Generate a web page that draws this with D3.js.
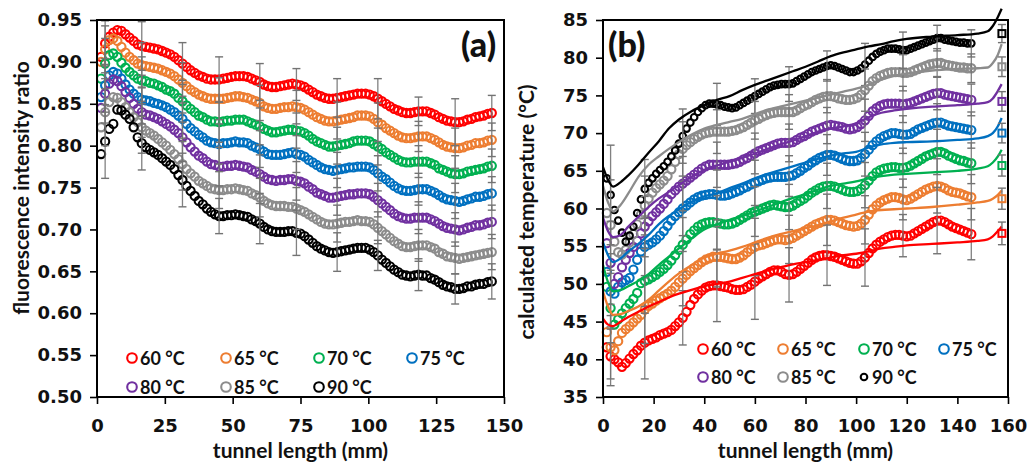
<!DOCTYPE html>
<html><head><meta charset="utf-8">
<script src="https://cdn.jsdelivr.net/npm/d3@7"></script>
<style>
body{margin:0;background:#fff}
text{font-family:Lato,"Open Sans",sans-serif;font-weight:700;fill:#111}
</style>
</head><body>
<svg id="chart" width="1027" height="468"></svg>
<script>
// ---------- data ----------
const seriesNames = ["60 °C","65 °C","70 °C","75 °C","80 °C","85 °C","90 °C"];
const seriesColors = ["#FF0000","#ED7D31","#00B050","#0070C0","#7030A0","#8C8C8C","#000000"];

const tunnelX = [1.5,3,4.5,6,7.5,9,10.5,12,13.5,15,
16.5,18,19.5,21,22.5,24,25.5,27,28.5,30,
31.5,33,34.5,36,37.5,39,40.5,42,43.5,45,
46.5,48,49.5,51,52.5,54,55.5,57,58.5,60,
61.5,63,64.5,66,67.5,69,70.5,72,73.5,75,
76.5,78,79.5,81,82.5,84,85.5,87,88.5,90,
91.5,93,94.5,96,97.5,99,100.5,102,103.5,105,
106.5,108,109.5,111,112.5,114,115.5,117,118.5,120,
121.5,123,124.5,126,127.5,129,130.5,132,133.5,135,
136.5,138,139.5,141,142.5,144,145.5];

// (a) fluorescence intensity ratio
const ratio60 = [.906,.922,.930,.935,.938,.937,.933,.929,.925,.921,
.919,.918,.917,.916,.915,.913,.911,.909,.906,.902,
.898,.894,.890,.887,.884,.882,.880,.879,.879,.879,
.880,.881,.882,.883,.883,.883,.882,.880,.878,.876,
.873,.871,.870,.870,.871,.872,.873,.874,.873,.872,
.870,.867,.864,.861,.859,.857,.856,.856,.857,.858,
.859,.860,.861,.862,.862,.862,.861,.859,.856,.853,
.850,.847,.844,.842,.840,.839,.839,.840,.841,.841,
.841,.839,.837,.834,.832,.830,.829,.828,.828,.829,
.831,.832,.834,.835,.836,.838,.839];
const ratio65 = [.900,.915,.926,.928,.925,.918,.911,.906,.902,.898,
.896,.895,.894,.893,.892,.890,.888,.886,.883,.879,
.875,.871,.867,.864,.861,.859,.857,.856,.856,.856,
.856,.857,.858,.859,.859,.858,.857,.855,.853,.851,
.847,.845,.844,.844,.845,.846,.846,.847,.846,.845,
.843,.840,.837,.834,.832,.830,.829,.829,.830,.831,
.832,.833,.834,.836,.836,.836,.835,.832,.828,.825,
.821,.818,.815,.812,.810,.809,.809,.810,.811,.811,
.811,.809,.807,.804,.801,.799,.798,.797,.797,.798,
.800,.801,.803,.803,.804,.806,.807];
const ratio70 = [.880,.898,.908,.910,.906,.899,.893,.888,.884,.880,
.878,.877,.875,.874,.872,.870,.867,.865,.862,.857,
.853,.848,.844,.840,.836,.834,.831,.829,.829,.828,
.829,.830,.830,.831,.831,.831,.829,.827,.825,.823,
.820,.818,.816,.816,.817,.818,.819,.819,.818,.817,
.815,.812,.808,.805,.803,.801,.799,.799,.800,.801,
.802,.803,.805,.806,.806,.806,.805,.802,.799,.796,
.792,.789,.786,.783,.781,.780,.780,.781,.781,.781,
.781,.779,.777,.773,.771,.769,.767,.766,.766,.767,
.769,.770,.771,.772,.773,.775,.776];
const ratio75 = [.858,.872,.884,.888,.886,.880,.873,.867,.862,.858,
.855,.854,.853,.851,.850,.848,.846,.843,.840,.836,
.832,.826,.821,.817,.813,.810,.806,.804,.803,.802,
.803,.803,.804,.805,.804,.804,.803,.800,.798,.796,
.793,.790,.789,.789,.789,.790,.791,.792,.790,.789,
.787,.783,.780,.777,.774,.772,.771,.770,.771,.772,
.773,.774,.774,.775,.775,.775,.774,.771,.767,.763,
.760,.756,.752,.749,.747,.746,.746,.747,.748,.748,
.748,.746,.744,.741,.738,.736,.735,.734,.733,.734,
.736,.737,.739,.739,.740,.742,.743];
const ratio80 = [.845,.862,.874,.879,.877,.871,.864,.857,.850,.844,
.840,.837,.836,.834,.832,.829,.826,.823,.819,.815,
.810,.804,.798,.793,.788,.785,.781,.778,.777,.775,
.775,.776,.776,.777,.776,.775,.774,.771,.769,.766,
.763,.760,.759,.758,.759,.759,.760,.760,.758,.757,
.755,.751,.748,.744,.742,.740,.738,.738,.739,.740,
.741,.742,.742,.743,.743,.743,.742,.739,.735,.731,
.727,.723,.719,.716,.714,.713,.713,.714,.714,.714,
.714,.712,.710,.707,.704,.702,.701,.700,.699,.700,
.702,.703,.705,.705,.706,.708,.709];
const ratio85 = [.822,.840,.852,.858,.857,.852,.846,.840,.834,.828,
.822,.818,.815,.812,.808,.804,.800,.795,.790,.784,
.778,.772,.767,.763,.758,.755,.752,.749,.748,.747,
.747,.748,.748,.749,.748,.747,.746,.743,.741,.738,
.734,.731,.729,.728,.728,.728,.727,.727,.725,.723,
.721,.718,.715,.712,.709,.707,.706,.706,.707,.708,
.709,.709,.710,.711,.710,.710,.709,.706,.702,.698,
.694,.690,.686,.683,.680,.679,.679,.680,.681,.681,
.681,.679,.677,.673,.671,.668,.667,.666,.665,.666,
.667,.668,.669,.670,.671,.672,.673];
const ratio90 = [.790,.805,.820,.826,.843,.842,.837,.832,.822,.810,
.803,.798,.795,.792,.789,.785,.781,.777,.772,.765,
.759,.752,.746,.740,.734,.730,.725,.721,.718,.716,
.716,.717,.717,.718,.717,.716,.715,.712,.710,.707,
.703,.700,.698,.697,.697,.697,.698,.698,.696,.695,
.692,.688,.684,.680,.677,.675,.673,.672,.673,.674,
.675,.676,.677,.678,.678,.678,.676,.673,.669,.664,
.660,.656,.652,.649,.646,.645,.644,.645,.646,.645,
.645,.642,.640,.637,.634,.632,.631,.629,.629,.630,
.632,.632,.634,.635,.635,.637,.638];

// (b) calculated temperature (°C)
const temp60 = [41.6,40.4,40.0,39.6,39.0,39.5,40.1,40.7,41.2,41.8,
42.2,42.5,42.7,42.9,43.2,43.4,43.6,43.9,44.4,44.9,
45.5,46.3,47.2,48.0,48.6,49.1,49.5,49.7,49.8,49.8,
49.7,49.6,49.5,49.3,49.2,49.2,49.3,49.6,49.9,50.3,
50.7,51.0,51.3,51.6,51.8,51.8,51.6,51.3,51.2,51.3,
51.6,52.0,52.4,52.8,53.2,53.5,53.7,53.8,53.8,53.7,
53.6,53.4,53.2,53.0,52.8,52.7,52.7,53.0,53.5,54.1,
54.7,55.2,55.6,55.9,56.2,56.4,56.5,56.5,56.4,56.3,
56.4,56.7,57.0,57.3,57.6,57.9,58.2,58.4,58.4,58.2,
57.9,57.6,57.4,57.2,57.0,56.8,56.6];
const temp65 = [43.6,41.6,41.2,42.4,43.5,44.0,44.4,44.9,45.4,45.9,
46.6,47.1,47.4,47.8,48.1,48.4,48.7,49.1,49.6,50.2,
50.7,51.2,51.7,52.1,52.5,52.9,53.2,53.4,53.6,53.6,
53.6,53.5,53.4,53.3,53.3,53.5,53.8,54.2,54.6,54.9,
55.1,55.2,55.4,55.6,55.8,55.9,55.9,55.8,55.9,56.1,
56.4,56.7,57.0,57.3,57.6,57.9,58.1,58.3,58.5,58.5,
58.4,58.2,58.0,57.8,57.7,57.6,57.7,58.0,58.5,59.2,
59.9,60.4,60.8,61.1,61.3,61.5,61.5,61.4,61.2,61.1,
61.3,61.6,61.9,62.2,62.5,62.7,62.9,63.0,62.9,62.7,
62.4,62.2,62.1,62.0,61.8,61.6,61.5];
const temp70 = [49.6,46.8,44.6,45.3,46.1,46.8,47.4,48.0,48.8,50.1,
50.4,50.6,50.9,51.2,51.6,52.0,52.5,53.1,53.8,54.5,
55.2,55.9,56.6,57.1,57.6,57.9,58.1,58.2,58.2,58.1,
58.0,57.9,57.9,58.0,58.2,58.5,58.8,59.1,59.4,59.6,
59.8,60.0,60.2,60.4,60.5,60.4,60.3,60.2,60.2,60.4,
60.7,61.0,61.3,61.7,62.1,62.4,62.7,62.9,63.0,63.0,
62.9,62.7,62.5,62.3,62.2,62.2,62.3,62.6,63.1,63.7,
64.3,64.8,65.1,65.3,65.4,65.5,65.5,65.4,65.4,65.5,
65.7,66.0,66.3,66.6,66.9,67.1,67.3,67.5,67.5,67.3,
67.0,66.8,66.6,66.4,66.3,66.1,66.0];
const temp75 = [51.6,49.0,48.7,49.6,50.2,50.5,50.8,51.9,53.2,54.3,
54.9,55.2,55.5,55.9,56.4,57.0,57.7,58.4,59.0,59.5,
60.0,60.4,60.8,61.2,61.5,61.7,61.8,61.9,61.9,61.8,
61.7,61.7,61.8,62.0,62.2,62.4,62.7,62.9,63.2,63.4,
63.6,63.8,64.0,64.1,64.2,64.2,64.2,64.2,64.3,64.4,
64.7,65.0,65.4,65.7,66.1,66.4,66.7,66.9,67.1,67.1,
67.0,66.8,66.6,66.4,66.3,66.3,66.4,66.7,67.2,67.8,
68.4,68.9,69.3,69.6,69.8,70.0,70.0,69.9,69.8,69.8,
69.9,70.2,70.5,70.7,70.9,71.1,71.3,71.4,71.4,71.2,
71.0,70.9,70.8,70.7,70.6,70.5,70.4];
const temp80 = [55.4,52.8,50.0,50.9,52.2,53.2,54.1,54.9,55.7,56.7,
57.6,58.3,59.0,59.5,60.0,60.6,61.2,61.9,62.4,62.9,
63.3,63.7,64.1,64.5,64.9,65.3,65.6,65.8,65.8,65.8,
65.8,65.8,65.8,65.9,66.0,66.2,66.5,66.7,67.0,67.3,
67.6,67.8,68.0,68.2,68.4,68.6,68.7,68.7,68.7,68.8,
69.1,69.4,69.6,69.9,70.2,70.4,70.6,70.8,71.0,71.1,
71.0,70.9,70.8,70.6,70.5,70.6,70.8,71.2,71.7,72.3,
72.9,73.3,73.6,73.8,73.9,73.9,73.9,73.9,73.8,73.9,
74.0,74.2,74.4,74.6,74.8,75.0,75.2,75.3,75.3,75.1,
75.0,74.9,74.8,74.7,74.6,74.5,74.4];
const temp85 = [59.4,57.8,55.6,54.2,53.9,54.5,55.5,56.6,57.9,59.2,
60.4,61.3,62.1,62.7,63.2,63.7,64.3,65.2,66.2,67.2,
67.9,68.4,68.8,69.2,69.5,69.8,70.0,70.1,70.2,70.2,
70.2,70.2,70.2,70.3,70.4,70.6,70.8,71.1,71.4,71.7,
71.9,72.2,72.4,72.6,72.7,72.8,72.8,72.8,72.8,72.8,
73.0,73.3,73.6,73.8,74.1,74.4,74.6,74.8,74.9,74.9,
74.8,74.6,74.5,74.4,74.4,74.5,74.7,75.1,75.7,76.3,
76.9,77.3,77.6,77.8,78.0,78.1,78.1,78.1,78.0,78.0,
78.1,78.3,78.5,78.7,78.9,79.1,79.2,79.3,79.3,79.1,
79.0,78.9,78.8,78.7,78.7,78.6,78.6];
const temp90 = [64.0,61.8,59.8,58.4,56.8,55.6,56.4,57.6,59.4,61.2,
62.6,63.4,64.0,64.6,65.1,65.6,66.2,66.9,67.7,68.6,
69.6,70.6,71.4,72.1,72.8,73.3,73.7,73.9,73.9,73.8,
73.7,73.5,73.4,73.3,73.4,73.7,74.0,74.3,74.6,74.9,
75.2,75.5,75.8,76.1,76.3,76.4,76.5,76.5,76.5,76.6,
76.9,77.2,77.5,77.8,78.1,78.3,78.5,78.7,78.9,79.0,
78.9,78.7,78.5,78.3,78.1,78.1,78.3,78.6,79.1,79.6,
80.1,80.5,80.8,81.0,81.2,81.2,81.2,81.1,81.0,81.0,
81.2,81.4,81.6,81.8,82.0,82.2,82.4,82.6,82.6,82.4,
82.3,82.2,82.1,82.0,82.0,81.9,81.9];

// error bars (positions along tunnel and ± values)
const errX = [3,16.5,31.5,45,60,73.5,88.5,103.5,118.5,132,145.5];
const errA60 = [.027,.029,.025,.027,.022,.019,.023,.024,.017,.028,.021];
const errA65 = [.028,.027,.024,.025,.021,.020,.022,.023,.018,.024,.020];
const errA70 = [.030,.028,.025,.024,.022,.021,.022,.022,.019,.022,.020];
const errA75 = [.032,.029,.027,.024,.022,.022,.021,.021,.019,.021,.020];
const errA80 = [.035,.030,.029,.023,.023,.023,.022,.020,.019,.020,.020];
const errA85 = [.040,.031,.031,.022,.023,.025,.022,.019,.019,.019,.021];
const errA90 = [.044,.032,.032,.021,.024,.027,.023,.018,.019,.018,.021];
const errB60 = [3.9,4.8,3.6,4.8,5.0,3.6,4.0,3.8,2.8,4.4,3.4];
const errB65 = [4.2,4.5,3.6,4.0,3.8,3.2,3.4,3.2,2.7,3.6,3.0];
const errB70 = [4.6,4.3,3.6,3.6,3.3,3.0,3.0,3.0,2.6,3.0,2.7];
const errB75 = [5.0,4.1,3.6,3.3,3.0,2.7,2.7,2.9,2.5,2.5,2.4];
const errB80 = [5.5,4.0,3.6,3.0,2.7,2.5,2.4,2.8,2.4,2.2,2.1];
const errB85 = [6.0,3.9,3.6,2.9,2.5,2.3,2.2,2.8,2.4,1.9,1.9];
const errB90 = [6.6,3.9,3.6,2.8,2.3,2.3,2.0,2.8,2.4,1.7,1.8];

// simulated temperature lines (b)
const simX = [0,2,4,7,10,14,18,22,26,30,35,40,45,50,55,60,65,70,75,80,85,90,95,100,105,110,115,120,130,140,148,152,154,156,157.5];
const sim60 = [45.4,44.6,44.4,45.0,45.6,46.3,47.0,47.6,48.2,48.7,49.2,49.7,50.0,50.3,50.8,51.3,51.8,52.2,52.6,52.9,53.2,53.5,53.8,54.0,54.3,54.7,54.9,55.1,55.3,55.5,55.7,55.9,56.3,57.0,57.6];
const sim65 = [49.0,47.0,45.9,46.0,46.4,47.0,47.9,49.1,50.3,51.4,52.5,53.5,54.0,54.4,54.9,55.5,56.1,56.6,57.0,57.4,57.8,58.3,58.8,59.2,59.6,59.8,59.9,60.0,60.2,60.5,60.8,61.0,61.3,61.8,62.4];
const sim70 = [52.5,50.2,49.0,49.2,49.7,50.4,51.3,52.5,53.6,54.7,56.0,57.2,57.9,58.5,59.0,59.6,60.2,60.8,61.4,61.9,62.5,63.0,63.3,63.6,64.0,64.3,64.5,64.6,64.8,65.0,65.3,65.6,66.1,66.9,67.8];
const sim75 = [55.5,53.8,52.9,53.4,54.3,55.3,56.5,57.9,59.0,59.9,60.9,61.6,62.0,62.7,63.3,64.0,64.6,65.1,65.6,66.1,66.6,67.0,67.3,67.5,68.1,68.5,68.7,68.8,68.9,69.1,69.3,69.6,70.0,70.9,72.0];
const sim80 = [58.8,57.0,56.2,56.5,57.6,58.9,60.2,61.3,62.2,63.1,64.2,65.1,65.7,66.2,66.7,67.3,67.9,68.5,69.0,69.6,70.2,70.6,70.9,71.3,72.1,72.7,73.0,73.2,73.5,73.7,73.9,74.1,74.6,75.6,76.5];
const sim85 = [63.0,60.8,59.6,60.5,62.0,64.2,65.8,66.9,67.9,68.8,69.8,70.6,71.1,71.5,71.9,72.5,73.1,73.5,73.9,74.3,74.7,75.1,75.5,75.9,76.4,77.1,77.6,77.9,78.3,78.5,78.6,78.7,79.3,80.4,81.8];
const sim90 = [65.5,63.8,62.9,63.5,64.4,65.8,67.4,68.9,70.6,71.8,72.9,73.7,74.4,74.9,75.7,76.4,77.0,77.6,78.2,78.8,79.5,80.2,80.7,81.1,81.5,81.8,82.2,82.5,82.8,83.0,83.2,83.5,84.2,85.4,86.5];

// outlet measurements (squares)
const outletX = 157.6;
const outletT = [56.7,61.3,65.7,70.0,74.2,78.8,83.2];
const outletErr = [1.5,1.4,1.4,1.3,1.3,1.3,1.2];

const ticksA_y = [0.50,0.55,0.60,0.65,0.70,0.75,0.80,0.85,0.90,0.95];
const ticksA_x = [0,25,50,75,100,125,150];
const ticksB_y = [35,40,45,50,55,60,65,70,75,80,85];
const ticksB_x = [0,20,40,60,80,100,120,140,160];

const ratios = [ratio60,ratio65,ratio70,ratio75,ratio80,ratio85,ratio90];
const temps = [temp60,temp65,temp70,temp75,temp80,temp85,temp90];
const errsA = [errA60,errA65,errA70,errA75,errA80,errA85,errA90];
const errsB = [errB60,errB65,errB70,errB75,errB80,errB85,errB90];
const sims = [sim60,sim65,sim70,sim75,sim80,sim85,sim90];

// ---------- drawing ----------
const svg = d3.select("#chart");
const errColor = "#737373";
const tickFont = "'DejaVu Sans', sans-serif";

function panel(cfg){
  const g = svg.append("g");
  const x = cfg.x, y = cfg.y;
  const [x0,x1] = x.range(), [y0,y1] = y.range();
  const ax = g.append("g").attr("transform",`translate(0,${y0})`)
    .call(d3.axisBottom(x).tickValues(cfg.xt).tickSize(7).tickSizeOuter(0).tickPadding(15).tickFormat(d3.format("d")));
  const ay = g.append("g").attr("transform",`translate(${x0},0)`)
    .call(d3.axisLeft(y).tickValues(cfg.yt).tickSize(7).tickSizeOuter(0).tickPadding(8).tickFormat(cfg.yf));
  [ax,ay].forEach(a=>{
    a.select(".domain").remove();
    a.selectAll(".tick line").attr("stroke","#000").attr("stroke-width",1.6);
    a.selectAll(".tick text").style("font-size","18px").style("font-family",tickFont).style("font-weight","700").attr("fill","#1a1a1a");
  });
  // circles
  cfg.vals.forEach((vals,si)=>{
    g.append("g").selectAll("circle").data(vals).join("circle")
      .attr("cx",(d,i)=>x(tunnelX[i])).attr("cy",d=>y(d))
      .attr("r", cfg.rad(si)).attr("fill","none")
      .attr("stroke",seriesColors[si]).attr("stroke-width",2.1);
  });
  // error bars (drawn over the markers)
  const eb = g.append("g");
  cfg.vals.forEach((vals,si)=>{
    errX.forEach((ex,k)=>{
      const i = tunnelX.indexOf(ex);
      const v = vals[i], e = cfg.errs[si][k];
      const px = x(ex);
      eb.append("line").attr("x1",px).attr("x2",px).attr("y1",y(v-e)).attr("y2",y(v+e))
        .attr("stroke",errColor).attr("stroke-width",1.3).attr("stroke-opacity",0.9);
      [v-e,v+e].forEach(t=>eb.append("line").attr("x1",px-4).attr("x2",px+4).attr("y1",y(t)).attr("y2",y(t))
        .attr("stroke",errColor).attr("stroke-width",1.4));
    });
  });
  if(cfg.after) cfg.after(g,x,y);
  // frame
  g.append("rect").attr("x",x0).attr("y",y1).attr("width",x1-x0).attr("height",y0-y1)
    .attr("fill","none").attr("stroke","#000").attr("stroke-width",2);
  // titles
  g.append("text").attr("x",(x0+x1)/2).attr("y",458).attr("text-anchor","middle")
    .style("font-size","21px").text("tunnel length (mm)");
  g.append("text").attr("transform",`translate(${cfg.ytx},${cfg.ytc}) rotate(-90)`)
    .attr("text-anchor","middle").style("font-size","21px").text(cfg.ytitle);
  g.append("text").attr("x",cfg.lab[0]).attr("y",cfg.lab[1]).style("font-size","34px").style("font-weight","900").text(cfg.label);
  // legend
  const lg = g.append("g");
  seriesNames.forEach((nm,si)=>{
    const col = si%4, row = Math.floor(si/4);
    const lx = cfg.leg.x[col], ly = cfg.leg.y[row];
    lg.append("circle").attr("cx",lx).attr("cy",ly).attr("r", cfg.legR(si)).attr("fill","none")
      .attr("stroke",seriesColors[si]).attr("stroke-width",2.1);
    lg.append("text").attr("x",lx+8).attr("y",ly+6.5).style("font-size","18px").text(nm);
  });
}

panel({
  x: d3.scaleLinear().domain([0,150]).range([97,504]),
  y: d3.scaleLinear().domain([0.5,0.95]).range([397,20]),
  xt: ticksA_x, yt: ticksA_y, yf: d3.format(".2f"),
  vals: ratios, errs: errsA, rad: ()=>4.1, legR: ()=>4.8,
  ytx: 29, ytc: 188, ytitle: "fluorescence intensity ratio",
  label: "(a)", lab: [461,57],
  leg: {x:[132,226,319,412], y:[358,387]}
});

panel({
  x: d3.scaleLinear().domain([0,160]).range([603,1008]),
  y: d3.scaleLinear().domain([35,85]).range([397,20]),
  xt: ticksB_x, yt: ticksB_y, yf: d3.format("d"),
  vals: temps, errs: errsB, rad: si=> si===6?3.3:4.1, legR: si=> si===6?3.3:4.8,
  ytx: 534, ytc: 212, ytitle: "calculated temperature (°C)",
  label: "(b)", lab: [608,57],
  leg: {x:[703,783,864,944], y:[349,377]},
  after: (g,x,y)=>{
    const line = d3.line().x((d,i)=>x(simX[i])).y(d=>y(d)).curve(d3.curveMonotoneX);
    sims.forEach((s,si)=>{
      g.append("path").attr("d",line(s)).attr("fill","none")
        .attr("stroke",seriesColors[si]).attr("stroke-width",2.3);
    });
    outletT.forEach((t,si)=>{
      const px = x(outletX), e = outletErr[si];
      g.append("line").attr("x1",px).attr("x2",px).attr("y1",y(t-e)).attr("y2",y(t+e))
        .attr("stroke",errColor).attr("stroke-width",1.4);
      [t-e,t+e].forEach(v=>g.append("line").attr("x1",px-4).attr("x2",px+4).attr("y1",y(v)).attr("y2",y(v))
        .attr("stroke",errColor).attr("stroke-width",1.4));
      g.append("rect").attr("x",px-3.5).attr("y",y(t)-3.5).attr("width",7).attr("height",7)
        .attr("fill","none").attr("stroke",seriesColors[si]).attr("stroke-width",2);
    });
  }
});
</script>
</body></html>
